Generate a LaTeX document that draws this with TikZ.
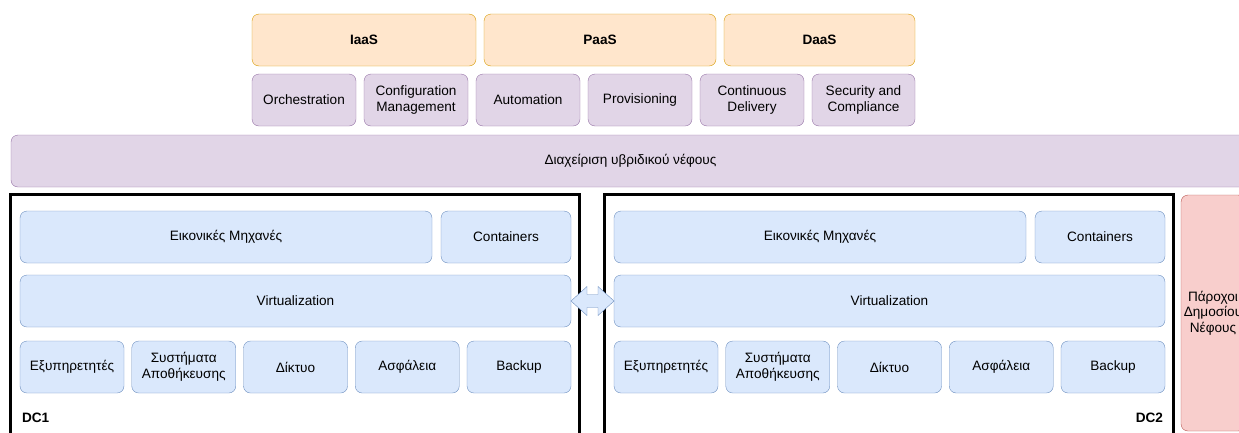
\documentclass[tikz,border=0pt]{standalone}
\usepackage{fontspec}
\setmainfont{Liberation Sans}
\usetikzlibrary{calc}

\definecolor{svcfill}{HTML}{FFE6CC}
\definecolor{svcline}{HTML}{D79B00}
\definecolor{mgmtfill}{HTML}{E1D5E7}
\definecolor{mgmtline}{HTML}{9673A6}
\definecolor{infrafill}{HTML}{DAE8FC}
\definecolor{infraline}{HTML}{6C8EBF}
\definecolor{pubfill}{HTML}{F8CECC}
\definecolor{publine}{HTML}{B85450}

\begin{document}
\begin{tikzpicture}[x=1pt, y=-1pt, every node/.style={font=\fontsize{13.6}{15.5}\selectfont, align=center, inner sep=0pt, outer sep=0pt},
svc/.style={draw=svcline, fill=svcfill, rounded corners=7pt, minimum height=52pt, font=\fontsize{13.6}{15.5}\selectfont\bfseries},
mgmt/.style={draw=mgmtline, fill=mgmtfill, rounded corners=7pt, minimum height=52pt},
infra/.style={draw=infraline, fill=infrafill, rounded corners=7pt, minimum height=52pt},
dcframe/.style={draw=black, line width=3.4pt, minimum width=569pt, minimum height=250pt},
dcname/.style={font=\fontsize{13.6}{15.5}\selectfont\bfseries}]

\useasboundingbox (0,0) rectangle (1239,432);

\node[svc, minimum width=224pt] (iaas) at (364,40) {IaaS};
\node[svc, minimum width=232pt] (paas) at (600,40) {PaaS};
\node[svc, minimum width=191pt] (daas) at (819.5,40) {DaaS};

\node[mgmt, minimum width=104pt] (orch) at (304,100) {Orchestration};
\node[mgmt, minimum width=104pt] (confman) at (416,100) {Configuration\\Management};
\node[mgmt, minimum width=104pt] (autom) at (528,100) {Automation};
\node[mgmt, minimum width=104pt] (prov) at (640,100) {Provisioning};
\node[mgmt, minimum width=104pt] (contdel) at (752,100) {Continuous\\Delivery};
\node[mgmt, minimum width=103pt] (secomp) at (863.5,100) {Security and\\Compliance};

\node[mgmt, minimum width=1239pt] (hybrid) at (630.5,161) {Διαχείριση υβριδικού νέφους};

\node[dcframe] (dc1) at (295,319.5) {};
\node[dcframe] (dc2) at (889,319.5) {};

\node[infra, minimum width=412pt] (vm1) at (226,237) {Εικονικές Μηχανές};
\node[infra, minimum width=130pt] (cont1) at (506,237) {Containers};
\node[infra, minimum width=551pt] (virt1) at (295.5,301) {Virtualization};
\node[infra, minimum width=104pt] (srv1) at (72,367) {Εξυπηρετητές};
\node[infra, minimum width=104pt] (stor1) at (183.75,367) {Συστήματα\\Αποθήκευσης};
\node[infra, minimum width=104pt] (net1) at (295.5,367) {Δίκτυο};
\node[infra, minimum width=104pt] (sec1) at (407.25,367) {Ασφάλεια};
\node[infra, minimum width=104pt] (bak1) at (519,367) {Backup};
\node[dcname, anchor=west] (dc1name) at (22,418) {DC1};

\node[infra, minimum width=412pt] (vm2) at (820,237) {Εικονικές Μηχανές};
\node[infra, minimum width=130pt] (cont2) at (1100,237) {Containers};
\node[infra, minimum width=551pt] (virt2) at (889.5,301) {Virtualization};
\node[infra, minimum width=104pt] (srv2) at (666,367) {Εξυπηρετητές};
\node[infra, minimum width=104pt] (stor2) at (777.75,367) {Συστήματα\\Αποθήκευσης};
\node[infra, minimum width=104pt] (net2) at (889.5,367) {Δίκτυο};
\node[infra, minimum width=104pt] (sec2) at (1001.25,367) {Ασφάλεια};
\node[infra, minimum width=104pt] (bak2) at (1113,367) {Backup};
\node[dcname, anchor=east] (dc2name) at (1163,418) {DC2};

\node[draw=publine, fill=pubfill, rounded corners=7pt, minimum width=64pt, minimum height=236pt] (public) at (1213,313) {Πάροχοι\\Δημοσίου\\Νέφους};

\draw[draw=infraline, fill=infrafill, line join=miter] (virt1.east) -- ++(16,-14.5) -- ++(0,8) -- ++(11,0) -- ++(0,-8) -- (virt2.west) -- ++(-16,14.5) -- ++(0,-8) -- ++(-11,0) -- ++(0,8) -- cycle;
\end{tikzpicture}
\end{document}
